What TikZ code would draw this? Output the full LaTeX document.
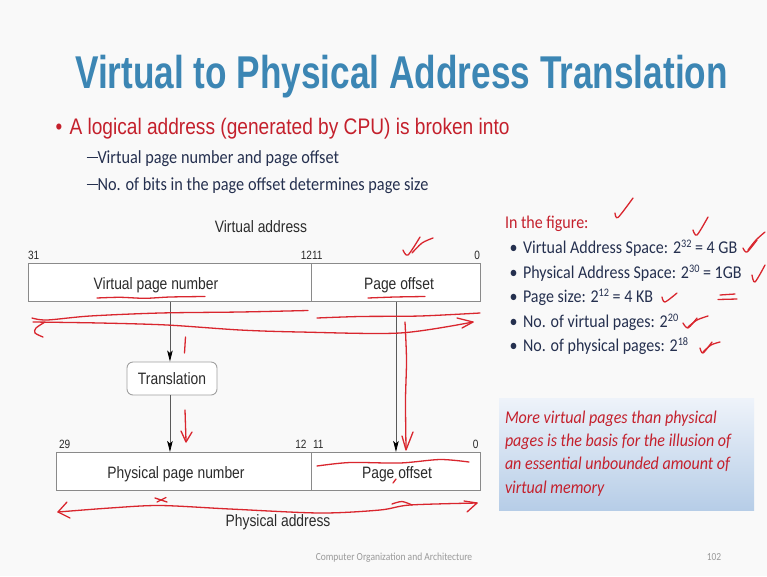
\documentclass[tikz,border=0pt]{standalone}
\usepackage{fontspec}
\setmainfont{Liberation Sans}
\newfontfamily\titlef[FakeStretch=0.765]{Liberation Sans}
\newfontfamily\redf[FakeStretch=0.85]{Liberation Sans}
\newfontfamily\figf[FakeStretch=0.84]{Liberation Sans}
\newfontfamily\calf[FakeStretch=0.88]{Carlito}
\newfontfamily\calr[FakeStretch=0.89]{Carlito}
\usetikzlibrary{arrows.meta}
\newcommand\supnum[1]{\raisebox{5.8pt}{\fontsize{11.5}{12}\selectfont #1}}
\newcommand\subdash{\rule[0.27em]{11pt}{1.3pt}}
\definecolor{bgc}{HTML}{F9F9F9}
\definecolor{titleblue}{HTML}{3C86B4}
\definecolor{redc}{HTML}{C4202C}
\definecolor{navy}{HTML}{25304F}
\definecolor{figtext}{HTML}{2B2B2B}
\definecolor{boxgray}{HTML}{8A8A8A}
\definecolor{linegray}{HTML}{5A5A5A}
\definecolor{inkred}{HTML}{D9262E}
\definecolor{notetop}{HTML}{EEF3FA}
\definecolor{notebot}{HTML}{B6CDE7}
\definecolor{footgray}{HTML}{9A9A9A}
\begin{document}
\begin{tikzpicture}[x=1pt,y=-1pt,
  txt/.style={inner sep=0pt, outer sep=0pt},
  titletxt/.style={txt, font={\titlef\bfseries\fontsize{46}{50}\selectfont}, text=titleblue},
  redtxt/.style={txt, font={\redf\fontsize{22.5}{26}\selectfont}, text=redc},
  subtxt/.style={txt, font={\calf\fontsize{18.5}{22}\selectfont}, text=navy},
  listtxt/.style={txt, font={\calr\fontsize{18}{22}\selectfont}, text=navy},
  notetxt/.style={txt, font={\calr\itshape\fontsize{18}{22}\selectfont}, text=redc},
  figlabel/.style={txt, font={\figf\fontsize{16.5}{19}\selectfont}, text=figtext},
  bitnum/.style={txt, font={\figf\fontsize{12}{14}\selectfont}, text=figtext},
  fieldbox/.style={draw=boxgray, line width=0.9pt, fill=white, inner sep=0pt, anchor=north west, minimum height=38pt},
  tbox/.style={draw=boxgray!80, line width=0.9pt, fill=white, rounded corners=6pt, inner sep=0pt, minimum width=90pt, minimum height=33pt, font={\figf\fontsize{16.5}{19}\selectfont}, text=figtext},
  arr/.style={draw=linegray, line width=0.8pt, -{Stealth[length=11pt,width=5.5pt,inset=2.5pt,color=black]}},
  ink/.style={draw=inkred, line width=1.3pt, line cap=round, line join=round},
  foot/.style={txt, font={\calf\fontsize{10.8}{12}\selectfont}, text=footgray}]
\useasboundingbox (0,0) rectangle (767,576);
\fill[bgc] (0,0) rectangle (767,576);

% title and bullets
\node[titletxt, anchor=base] (title) at (401.5,88) {Virtual to Physical Address Translation};
\node[redtxt, anchor=base west] (b1dot) at (55.5,134) {•};
\node[redtxt, anchor=base west] (b1) at (69.5,134) {A logical address (generated by CPU) is broken into};
\node[subtxt, anchor=base west] (s1) at (86.5,163) {\subdash Virtual page number and page offset};
\node[subtxt, anchor=base west] (s2) at (86.5,190) {\subdash No. of bits in the page offset determines page size};

% virtual address
\node[figlabel, anchor=base] (vlabel) at (261,232.5) {Virtual address};
\node[bitnum, anchor=base west] (n31) at (28,259.5) {31};
\node[bitnum, anchor=base east] (n1211) at (322.5,259.5) {1211};
\node[bitnum, anchor=base east] (n0a) at (480,259.5) {0};
\node[fieldbox, minimum width=283pt] (vpn) at (28,263) {};
\node[fieldbox, minimum width=169pt] (voff) at (311,263) {};
\node[figlabel, anchor=base] (vpnt) at (156,289.5) {Virtual page number};
\node[figlabel, anchor=base] (vofft) at (399,289.5) {Page offset};

% translation
\node[tbox] (trans) at (172,378.5) {Translation};

% physical address
\node[bitnum, anchor=base west] (n29) at (59,448) {29};
\node[bitnum, anchor=base east] (n12) at (306.5,448) {12};
\node[bitnum, anchor=base west] (n11) at (313,448) {11};
\node[bitnum, anchor=base east] (n0b) at (478.5,448) {0};
\node[fieldbox, minimum width=255pt] (ppn) at (56,452) {};
\node[fieldbox, minimum width=169pt] (poff) at (311,452) {};
\node[figlabel, anchor=base] (ppnt) at (176,478) {Physical page number};
\node[figlabel, anchor=base] (pofft) at (397,478) {Page offset};
\node[figlabel, anchor=base] (plabel) at (278,526.5) {Physical address};

% connectors
\draw[arr] (vpn.south) -- (vpn.south |- trans.north);
\draw[arr] (vpn.south |- trans.south) -- (vpn.south |- ppn.north);
\draw[arr] (voff.south) -- (voff.south |- poff.north);

% right panel
\node[txt, font={\calr\fontsize{18}{22}\selectfont}, text=redc, anchor=base west] (fig) at (505,228) {In the figure:};
\foreach \i/\t in {1/{Virtual Address Space: 2\supnum{32} = 4 GB},
                   2/{Physical Address Space: 2\supnum{30} = 1GB},
                   3/{Page size: 2\supnum{12} = 4 KB},
                   4/{No. of virtual pages: 2\supnum{20}},
                   5/{No. of physical pages: 2\supnum{18}}}{
  \node[listtxt, anchor=base west] (ld\i) at (509.5,229+24.5*\i) {•};
  \node[listtxt, anchor=base west] (l\i) at (523,229+24.5*\i) {\t};
}

% note box
\node[top color=notetop, bottom color=notebot, draw=none, inner sep=0pt, anchor=north west, minimum width=255pt, minimum height=112pt] (note) at (499,398) {};
\node[notetxt, anchor=base west] (nt1) at (505,423) {More virtual pages than physical};
\node[notetxt, anchor=base west] (nt2) at (505,446.3) {pages is the basis for the illusion of};
\node[notetxt, anchor=base west] (nt3) at (505,469.6) {an essential unbounded amount of};
\node[notetxt, anchor=base west] (nt4) at (505,493) {virtual memory};

% footer
\node[foot, anchor=base] (footer) at (394,560) {Computer Organization and Architecture};
\node[foot, anchor=base] (page) at (714,560) {102};

% handwritten ink
\draw[ink] plot[smooth] coordinates {(97,298) (120,297.3) (145,298.3) (170,297) (205,296.5)};
\draw[ink] plot[smooth] coordinates {(368,298) (395,297) (425,296.5)};
\draw[ink] plot[smooth] coordinates {(32,318) (47,320) (90,316) (160,313) (240,312) (308,310.5)};
\draw[ink] plot[smooth] coordinates {(317,318) (360,316.5) (420,316) (480,313)};
\draw[ink] plot[smooth] coordinates {(33,322) (100,323) (167,325) (240,330) (300,332) (400,333) (473,322)};
\draw[ink] (457,318) -- (473,322) -- (462,328);
\draw[ink] plot[smooth] coordinates {(45,322) (36,328) (35,333) (43,337)};
\draw[ink] plot[smooth] coordinates {(403,250) (408,255) (420,237)};
\draw[ink] plot[smooth] coordinates {(412,253) (422,243) (433,238)};
\draw[ink] (185.5,337) -- (184.5,353);
\draw[ink] (185,410) -- (186,441);
\draw[ink] (181,431) -- (186,442) -- (192,432);
\draw[ink] plot[smooth] coordinates {(405,322) (406.5,360) (405.5,400) (406,448)};
\draw[ink] (402,436) -- (406,450) -- (413,432);
\draw[ink] plot[smooth] coordinates {(317,466) (350,462.5) (400,463) (440,459.5) (469,462)};
\draw[ink] (393,483) -- (396,479);
\draw[ink] plot[smooth] coordinates {(58,512) (110,508) (160,505.5) (230,509) (320,513) (380,510) (410,505) (477,503)};
\draw[ink] (67,502) -- (58,512) -- (70,518);
\draw[ink] (464,501) -- (477,503) -- (467,512);
\draw[ink] (155,498) -- (167,502);
\draw[ink] (157,502) -- (166,497.5);
\draw[ink] plot[smooth] coordinates {(392,504) (402,501.5) (412,505)};
% checks on the right
\draw[ink] plot[smooth] coordinates {(615,213) (618,217.5) (633,198)};
\draw[ink] plot[smooth] coordinates {(693,230) (697,235) (708,217)};
\draw[ink] plot[smooth] coordinates {(743,248) (747,252) (757,240)};
\draw[ink] plot[smooth] coordinates {(748,250) (756,240) (765,232)};
\draw[ink] plot[smooth] coordinates {(752,275) (755,282) (765,265)};
\draw[ink] plot[smooth] coordinates {(662,297) (665,302) (677,293)};
\draw[ink] (720,295) -- (735,294);
\draw[ink] (718,299.5) -- (737,299);
\draw[ink] plot[smooth] coordinates {(683,323) (688,328) (697,318)};
\draw[ink] plot[smooth] coordinates {(688,327) (697,320) (708,316)};
\draw[ink] plot[smooth] coordinates {(700,348) (703,353) (712,342)};
\draw[ink] plot[smooth] coordinates {(703,352) (711,345) (720,342)};
\end{tikzpicture}
\end{document}
